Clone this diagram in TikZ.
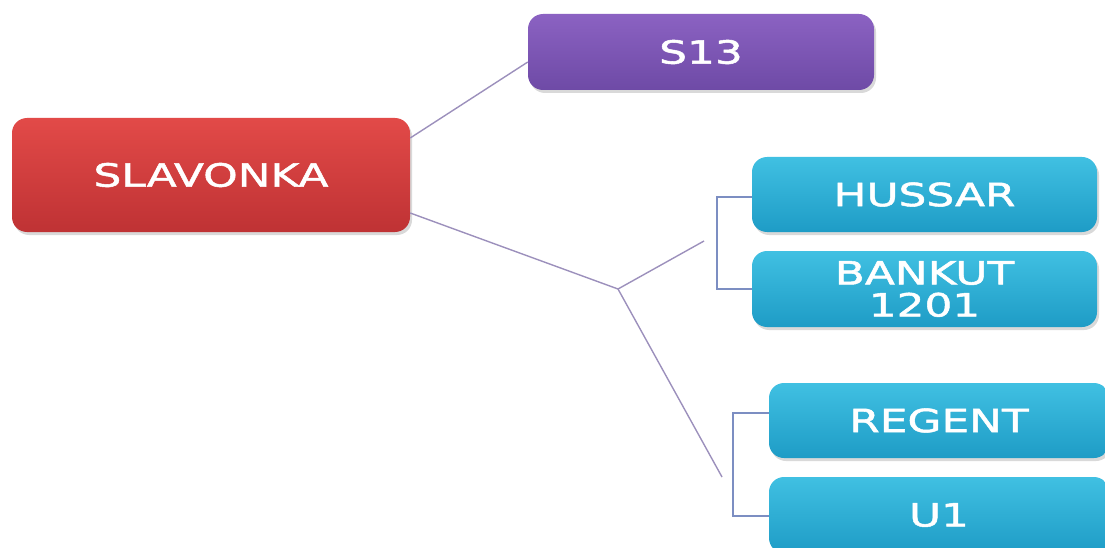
\documentclass[tikz,border=0pt]{standalone}
\usepackage{fontspec}
\newfontfamily\boxfont[FakeStretch=1.37,FakeBold=1.6]{DejaVu Sans}
\usetikzlibrary{calc,shadows}
\definecolor{redtop}{HTML}{E24A48}
\definecolor{redbot}{HTML}{BF3234}
\definecolor{purtop}{HTML}{8B62C2}
\definecolor{purbot}{HTML}{6E4AA6}
\definecolor{cyatop}{HTML}{40C0E2}
\definecolor{cyabot}{HTML}{1E9CC6}
\definecolor{linecol}{HTML}{9C90BC}
\definecolor{brackcol}{HTML}{7C8EC2}
\tikzset{
  boxbase/.style={rounded corners=15pt, inner sep=0pt, align=center,
    text=white, font=\boxfont\fontsize{32}{32}\selectfont,
    drop shadow={shadow xshift=2pt, shadow yshift=-3pt, opacity=0.3}},
  redbox/.style={boxbase, top color=redtop, bottom color=redbot},
  purbox/.style={boxbase, top color=purtop, bottom color=purbot},
  cyabox/.style={boxbase, top color=cyatop, bottom color=cyabot},
  conn/.style={draw=linecol, line width=1.4pt},
  brack/.style={draw=brackcol, line width=1.4pt}
}
\begin{document}
\begin{tikzpicture}[x=1pt,y=-1pt]
\useasboundingbox (0,0) rectangle (1105,548);
\node[redbox, minimum width=398pt, minimum height=114pt] (SL) at (211,175) {SLAVONKA};
\node[purbox, minimum width=346pt, minimum height=76pt] (S13) at (701,52) {S13};
\node[cyabox, minimum width=345pt, minimum height=75pt] (HU) at (924.5,194.5) {HUSSAR};
\node[cyabox, minimum width=345pt, minimum height=76pt] (BK) at (924.5,289) {BANKUT\\[0pt]1201};
\node[cyabox, minimum width=340pt, minimum height=75pt] (RE) at (939,420.5) {REGENT};
\node[cyabox, minimum width=340pt, minimum height=76pt] (U1) at (939,515) {U1};
\coordinate (J) at (618,289);
\coordinate (F1) at (704,241);
\coordinate (F2) at (722,477);
\draw[conn] ($(SL.east)+(0,-37)$) -- ($(S13.west)+(0,10)$);
\draw[conn] ($(SL.east)+(0,38)$) -- (J);
\draw[conn] (J) -- (F1);
\draw[conn] (J) -- (F2);
\draw[brack] ($(HU.west)+(0,2.5)$) -- ++(-35,0) |- (BK.west);
\draw[brack] ($(RE.west)+(0,-7.5)$) -- ++(-36,0) |- ($(U1.west)+(0,1)$);
\end{tikzpicture}
\end{document}
